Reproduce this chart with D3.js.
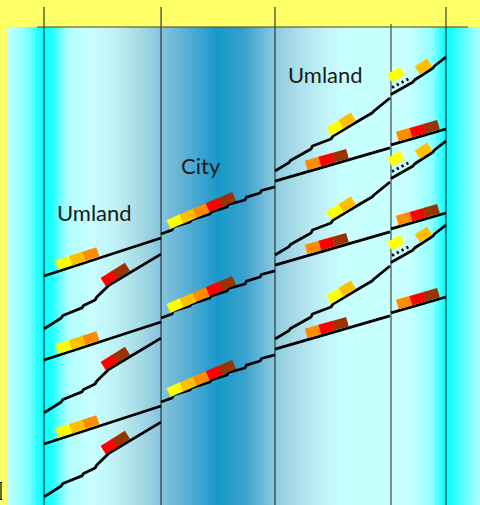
<!DOCTYPE html>
<html><head><meta charset="utf-8">
<script src="https://cdn.jsdelivr.net/npm/d3@7"></script>
<style>html,body{margin:0;padding:0;background:#ffff66;overflow:hidden}svg{display:block}</style>
</head><body>
<script>
// ---- data ----
// zone boundaries along the line (km)
const zoneBounds = [0, 10.19, 20.11, 30.21, 35];
const zoneLabels = ["Umland", "City", "Umland"];
// label anchor (km, minute)
const labelKm = [1.13, 11.93, 21.24];
const labelMin = [31.55, 37.14, 47.98];
// regular-interval departures from the City boundary (minutes)
const taktDepartures = [10, 20, 30];
// train paths: [km, minute offset relative to the City departure]
const leftFast = [[0,-5.0],[10.19,-0.48]];
const leftSlow = [[0,-11.3],[1.5,-10.0],[1.65,-9.7],[3.3,-8.8],[3.45,-8.5],[4.45,-7.85],[4.6,-7.5],[5.65,-6.1],[10.19,-2.4]];
const cityRun = [[10.19,0],[11.15,0.48],[11.28,0.83],[12.71,1.43],[12.84,1.67],[14.45,2.38],[14.58,2.62],[15.93,3.21],[16.06,3.51],[17.5,4.05],[17.63,4.4],[18.81,4.88],[18.94,5.18],[20.11,5.6]];
const rightFast = [[20.11,6.3],[30.12,10.25]];
const rightFast2 = [[30.21,10.6],[35,12.5]];
const rightSlow = [[20.11,7.5],[21.33,8.5],[21.46,8.75],[23.25,10.12],[23.38,10.48],[24.99,11.31],[25.16,11.67],[27.51,13.57],[28.56,14.4],[28.73,14.64],[30.12,16.19]];
const rightSlow2 = [[30.21,16.6],[32.13,18.1],[32.26,18.33],[33.87,19.76],[34.0,20.0],[35,21.07]];
const feeder = [[30.3,17.45],[31.78,18.5]];
// vehicle groups: path, km where the group starts, vehicles
const carPaths = ["leftFast","leftSlow","cityRun","rightFast","rightSlow","rightFast2","rightSlow2","feeder"];
const carStartKm = [1.31, 5.45, 11.06, 22.98, 25.1, 30.91, 32.82, 30.47];
const carSets = [["Y","G","O"],["R","B"],["Y","G","O","R","B"],["O","R","B"],["Y","G"],["O","R","B"],["G"],["Y"]];
const carColors = {Y:"#ffff00", G:"#ffc000", O:"#ff8c00", R:"#ff0000", B:"#993300"};

const paths = {leftFast,leftSlow,cityRun,rightFast,rightSlow,rightFast2,rightSlow2,feeder};

// ---- drawing ----
const W = 480, H = 505;
const svg = d3.select("body").append("svg").attr("width", W).attr("height", H);
const x = d3.scaleLinear().domain([0, 35]).range([44, 446]);
const y = d3.scaleLinear().domain([0, 55]).range([486, 24]);

const defs = svg.append("defs");
const grad = defs.append("linearGradient").attr("id","bg").attr("gradientUnits","userSpaceOnUse")
  .attr("x1",7).attr("x2",480).attr("y1",0).attr("y2",0);
const stops = [[7,"#c8ffff"],[28,"#80ffff"],[43,"#00ffff"],[52,"#20ffff"],[68,"#b0ffff"],[90,"#c8ffff"],[115,"#c0f2f6"],[140,"#a6dae6"],[161,"#86c4dc"],[185,"#5cb0d6"],[218,"#1898c8"],[245,"#3aa2ce"],[262,"#6ab8d8"],[275,"#8ccbdd"],[300,"#aee0ea"],[330,"#c4f8fc"],[345,"#c8ffff"],[410,"#c8ffff"],[432,"#90ffff"],[446,"#00ffff"],[455,"#30ffff"],[480,"#b0ffff"]];
stops.forEach(s => grad.append("stop").attr("offset", (s[0]-7)/473).attr("stop-color", s[1]));

svg.append("rect").attr("x",7).attr("y",27).attr("width",473).attr("height",478).attr("fill","url(#bg)");

// zone lines
svg.selectAll(".zone").data(zoneBounds).enter().append("line")
  .attr("x1", d => x(d)).attr("x2", d => x(d))
  .attr("y1", (d,i) => i === 3 ? 24 : 7).attr("y2", H)
  .attr("stroke", (d,i) => i === 3 ? "#5a6e70" : "#1e2a30")
  .attr("stroke-width", (d,i) => i === 3 ? 1.5 : 1.1);
svg.append("line").attr("x1",37).attr("x2",468).attr("y1",27).attr("y2",27)
  .attr("stroke","#444").attr("stroke-width",1.1);

const line = d3.line().x(d => x(d[0])).y(d => y(d[1]));
const g = svg.append("g");

function yAtPx(pts, px) {
  for (let i = 0; i < pts.length - 1; i++) {
    const a = pts[i], b = pts[i+1];
    if (px >= a[0] && px <= b[0]) return a[1] + (b[1]-a[1]) * (px - a[0]) / (b[0]-a[0]);
  }
  return px < pts[0][0] ? pts[0][1] : pts[pts.length-1][1];
}

const L = 14.2, Hc = 9.8;
taktDepartures.forEach(T => {
  Object.keys(paths).forEach(k => {
    const abs = paths[k].map(p => [p[0], T + p[1]]);
    g.append("path").attr("d", line(abs)).attr("fill","none").attr("stroke","#000")
      .attr("stroke-width", 2.8).attr("stroke-linejoin","round")
      .attr("stroke-dasharray", k === "feeder" ? "2.2,3.2" : null);
  });
  carPaths.forEach((k, gi) => {
    const pts = paths[k].map(p => [x(p[0]), y(T + p[1])]);
    const xs = x(carStartKm[gi]);
    const n = carSets[gi].length;
    let th = Math.atan2(yAtPx(pts, xs) - yAtPx(pts, xs + n*L*0.9), n*L*0.9);
    for (let it = 0; it < 4; it++) {
      const xe = xs + n*L*Math.cos(th);
      th = Math.atan2(yAtPx(pts, xs) - yAtPx(pts, xe), xe - xs);
    }
    const y0 = yAtPx(pts, xs);
    const lift = k === "feeder" ? 4.5 : 1.4;
    const cg = g.append("g").attr("transform", `translate(${xs},${y0}) rotate(${-th*180/Math.PI})`);
    carSets[gi].forEach((c, i) => {
      cg.append("rect").attr("x", i*L).attr("y", -Hc - lift).attr("width", L + 0.3).attr("height", Hc)
        .attr("fill", carColors[c]);
    });
  });
});

// labels
svg.selectAll(".lbl").data(zoneLabels).enter().append("text")
  .attr("x", (d,i) => x(labelKm[i])).attr("y", (d,i) => y(labelMin[i]))
  .attr("font-family","Lato, 'Noto Sans', sans-serif").attr("font-size", 22)
  .attr("fill","#1a1a1a").text(d => d);

// clipped mark at the lower left edge
svg.append("path").attr("d","M0,482.5 h2 M1,482.5 v17 M0,499.5 h2").attr("stroke","#000").attr("stroke-width",1.2);
</script>
</body></html>
